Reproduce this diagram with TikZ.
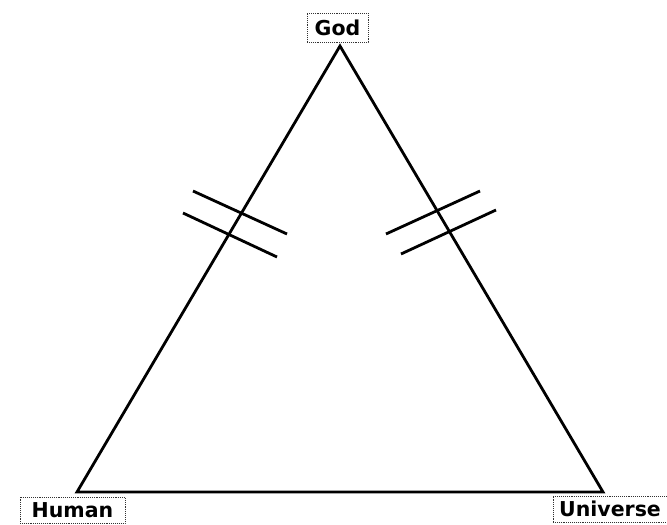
\documentclass[tikz,border=0pt]{standalone}
\usepackage{fontspec}
\setmainfont{DejaVu Sans}
\begin{document}
\begin{tikzpicture}[x=1pt,y=-1pt,
  lbl/.style={draw=black!80, densely dotted, line width=0.9pt, font=\bfseries\fontsize{20.5}{24}\selectfont, inner sep=0pt, anchor=center},
  edge/.style={line width=2.8pt, line join=miter},
  tick/.style={line width=2.8pt}]
\useasboundingbox (0,0) rectangle (667,525);
\coordinate (G) at (340,46);
\coordinate (H) at (77,492);
\coordinate (U) at (603,492);
\node[lbl, minimum width=61pt, minimum height=29pt] (god) at (337.5,27.5) {God};
\node[lbl, minimum width=105pt, minimum height=26pt] (human) at (72.5,510) {Human};
\node[lbl, minimum width=114pt, minimum height=26pt] (universe) at (610,509) {Universe};
\draw[edge] (G) -- (H) -- (U) -- cycle;
\coordinate (a1) at (193,191); \coordinate (a2) at (287,234);
\coordinate (b1) at (183,213); \coordinate (b2) at (277,257);
\coordinate (c1) at (386,234); \coordinate (c2) at (480,191);
\coordinate (d1) at (401,254); \coordinate (d2) at (496,210);
\draw[tick] (a1) -- (a2);
\draw[tick] (b1) -- (b2);
\draw[tick] (c1) -- (c2);
\draw[tick] (d1) -- (d2);
\end{tikzpicture}
\end{document}
